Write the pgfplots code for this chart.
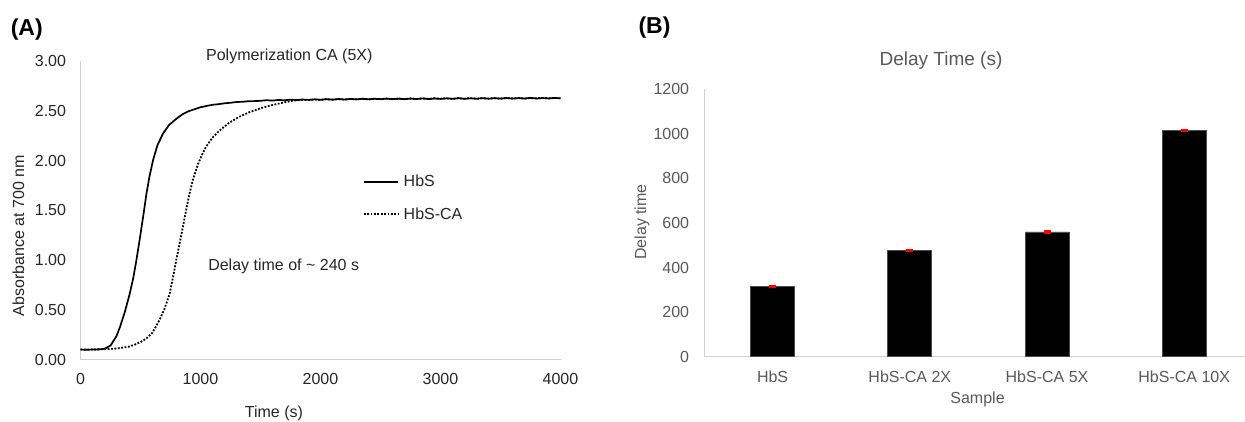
\documentclass[border=0pt]{standalone}
\usepackage{fontspec}
\setmainfont{Liberation Sans}
\usepackage{pgfplots}
\pgfplotsset{compat=1.18}
\definecolor{axgray}{HTML}{D0D0D0}
\definecolor{txtA}{HTML}{262626}
\definecolor{txtB}{HTML}{595959}
\definecolor{errred}{HTML}{FF0000}
\newcommand{\fs}{\fontsize{16}{19}\selectfont}

\begin{document}
\begin{tikzpicture}
\path[use as bounding box] (0,0) rectangle (1245pt,421pt);
\fill[white] (0,0) rectangle (1245pt,421pt);
% ---------------- Panel A ----------------
\begin{axis}[
  at={(80.5pt,61.5pt)}, anchor=south west, scale only axis,
  width=480pt, height=298.5pt,
  xmin=0, xmax=4000, ymin=0, ymax=3,
  axis x line*=bottom, axis y line*=left,
  axis line style={-, draw=axgray, line width=1pt},
  major tick length=0pt,
  xtick={0,1000,2000,3000,4000},
  ytick={0,0.5,1,1.5,2,2.5,3},
  /pgf/number format/assume math mode=true,
  /pgf/number format/1000 sep={},
  yticklabel style={/pgf/number format/.cd, fixed, fixed zerofill, precision=2, /tikz/.cd, inner sep=0pt, xshift=-14.3pt},
  xticklabel style={inner sep=0pt, yshift=-14pt},
  tick label style={font=\fs, text=txtA},
  label style={font=\fs, text=txtA},
  xlabel={Time (s)},
  xlabel style={at={(axis description cs:0.403,-0.179)}, anchor=center},
  ylabel={Absorbance at 700 nm},
  ylabel style={at={(axis description cs:-0.1296,0.415)}, anchor=center},
  legend style={at={(axis cs:2352,1.855)}, anchor=north west, draw=none, fill=none,
    font=\fs, text=txtA, row sep=19.5pt, column sep=4.4pt, inner sep=0pt, nodes={inner sep=0pt}},
  legend cell align=left,
  legend image code/.code={\draw[#1] (0pt,0pt) -- (34.6pt,0pt);},
  clip=false,
]
\addplot[black, line width=1.7pt, no marks] coordinates {
(0,0.100) (50,0.098) (100,0.100) (150,0.101) (200,0.108) (250,0.140) (300,0.235) (330,0.330)
(370,0.480) (410,0.660) (440,0.820) (466,1.000) (490,1.180) (510,1.340) (530,1.500) (550,1.670)
(575,1.840) (604,2.000) (640,2.150) (687,2.270) (740,2.360) (800,2.420) (850,2.465) (900,2.495)
(950,2.515) (1000,2.535) (1050,2.548) (1100,2.560) (1150,2.566) (1200,2.575) (1250,2.580) (1300,2.588)
(1350,2.590) (1400,2.596) (1450,2.597) (1500,2.600) (1550,2.606) (1600,2.602) (1650,2.609) (1700,2.605)
(1750,2.612) (1800,2.607) (1850,2.613) (1900,2.609) (1950,2.615) (2000,2.610) (2050,2.617) (2100,2.612)
(2150,2.618) (2200,2.613) (2250,2.619) (2300,2.614) (2350,2.620) (2400,2.615) (2450,2.621) (2500,2.616)
(2550,2.622) (2600,2.617) (2650,2.621) (2700,2.616) (2750,2.623) (2800,2.618) (2850,2.624) (2900,2.618)
(2950,2.623) (3000,2.619) (3050,2.625) (3100,2.620) (3150,2.626) (3200,2.620) (3250,2.625) (3300,2.621)
(3350,2.627) (3400,2.621) (3450,2.626) (3500,2.622) (3550,2.628) (3600,2.622) (3650,2.627) (3700,2.623)
(3750,2.629) (3800,2.623) (3850,2.628) (3900,2.624) (3950,2.629) (4000,2.625)
};
\addlegendentry{HbS}
\addplot[black, line width=1.8pt, dash pattern=on 1.8pt off 1.6pt, no marks] coordinates {
(0,0.100) (100,0.100) (200,0.104) (300,0.110) (400,0.128) (450,0.148) (500,0.175) (550,0.212)
(600,0.270) (660,0.400) (700,0.510) (743,0.660) (770,0.820) (798,1.000) (825,1.160) (853,1.330)
(880,1.500) (909,1.670) (940,1.820) (978,1.960) (1010,2.050) (1047,2.140) (1100,2.230) (1158,2.300)
(1240,2.380) (1324,2.440) (1407,2.485) (1500,2.525) (1573,2.550) (1680,2.580) (1766,2.600) (1850,2.610)
(1900,2.606) (1950,2.613) (2000,2.609) (2050,2.616) (2100,2.611) (2150,2.617) (2200,2.612) (2250,2.618)
(2300,2.615) (2350,2.621) (2400,2.614) (2450,2.620) (2500,2.617) (2550,2.622) (2600,2.616) (2650,2.623)
(2700,2.618) (2750,2.622) (2800,2.617) (2850,2.624) (2900,2.619) (2950,2.625) (3000,2.620) (3050,2.624)
(3100,2.619) (3150,2.626) (3200,2.621) (3250,2.627) (3300,2.620) (3350,2.626) (3400,2.622) (3450,2.627)
(3500,2.621) (3550,2.628) (3600,2.623) (3650,2.628) (3700,2.622) (3750,2.628) (3800,2.624) (3850,2.629)
(3900,2.623) (3950,2.628) (4000,2.625)
};
\addlegendentry{HbS-CA}
\node[font=\fs, text=txtA] at (axis description cs:0.435,1.0144) {Polymerization CA (5X)};
\node[font=\fs, text=txtA] at (axis cs:1693,0.933) {Delay time of \textasciitilde{} 240 s};
\node[font=\fontsize{23}{26}\selectfont\bfseries, text=black] at (axis description cs:-0.112,1.107) {(A)};
\end{axis}
% ---------------- Panel B ----------------
\begin{axis}[
  at={(704pt,64.3pt)}, anchor=south west, scale only axis,
  width=540.6pt, height=267.4pt,
  xmin=-0.5, xmax=3.44, ymin=0, ymax=1200,
  ybar, bar width=44pt,
  axis x line*=bottom, axis y line*=left,
  axis line style={-, draw=axgray, line width=1pt},
  major tick length=0pt,
  xtick={0,1,2,3},
  xticklabels={HbS, HbS-CA 2X, HbS-CA 5X, HbS-CA 10X},
  ytick={0,200,400,600,800,1000,1200},
  /pgf/number format/assume math mode=true,
  /pgf/number format/1000 sep={},
  yticklabel style={inner sep=0pt, xshift=-14.7pt},
  xticklabel style={inner sep=0pt, yshift=-14pt},
  tick label style={font=\fs, text=txtB},
  label style={font=\fs, text=txtB},
  xlabel={Sample},
  xlabel style={at={(axis description cs:0.506,-0.158)}, anchor=center},
  ylabel={Delay time},
  ylabel style={at={(axis description cs:-0.1147,0.5037)}, anchor=center},
  clip=false,
]
\addplot[fill=black, draw=black!70, line width=0.8pt,
  error bars/.cd, y dir=both, y explicit,
  error bar style={errred, line width=2pt},
  error mark options={errred, line width=2.4pt, mark size=3.5pt, rotate=90}]
coordinates {(0,314) +- (0,2) (1,478) +- (0,2) (2,560) +- (0,2) (3,1015) +- (0,2)};
\node[font=\fontsize{19}{22}\selectfont, text=txtB] at (axis description cs:0.4384,1.1058) {Delay Time (s)};
\node[font=\fontsize{23}{26}\selectfont\bfseries, text=black] at (axis description cs:-0.0916,1.231) {(B)};
\end{axis}
\end{tikzpicture}
\end{document}
